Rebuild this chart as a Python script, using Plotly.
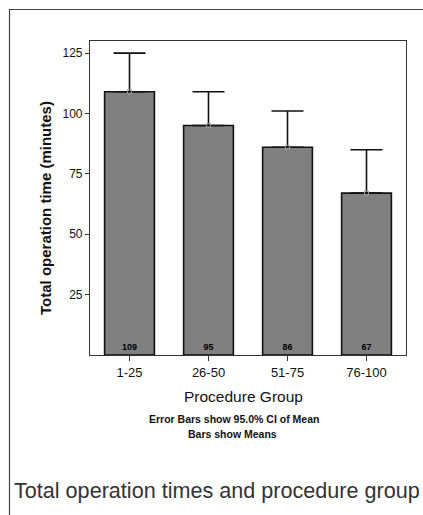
import plotly.graph_objects as go

# Mean total operation time per procedure group, with upper 95% CI
groups = ["1-25", "26-50", "51-75", "76-100"]
mean_minutes = [109, 95, 86, 67]
ci_upper = [125, 109, 101, 85]
bar_labels = ["109", "95", "86", "67"]
y_ticks = [25, 50, 75, 100, 125]

W, H = 423, 515
ML, MR, MT, MB = 90, 17, 41, 160
PW, PH = W - ML - MR, H - MT - MB


def px_x(px):
    return (px - ML) / PW


def px_y(py):
    return (H - MB - py) / PH


FONT = "Liberation Sans, Arial, sans-serif"

fig = go.Figure()

fig.add_trace(go.Bar(
    x=groups,
    y=mean_minutes,
    width=0.63,
    marker=dict(color="#808080", line=dict(color="#111111", width=1.6)),
    text=bar_labels,
    textposition="inside",
    insidetextanchor="start",
    textangle=0,
    textfont=dict(family=FONT, size=9, color="#000000", weight="bold"),
    error_y=dict(
        type="data",
        symmetric=False,
        array=[u - m for u, m in zip(ci_upper, mean_minutes)],
        arrayminus=[0] * len(mean_minutes),
        color="#111111",
        thickness=1.6,
        width=16,
    ),
    showlegend=False,
    hoverinfo="skip",
))

# Mean markers at the top of each bar
fig.add_trace(go.Scatter(
    x=groups,
    y=mean_minutes,
    mode="markers",
    marker=dict(symbol="square-open", size=4, color="#9a9a9a", line=dict(width=1)),
    showlegend=False,
    hoverinfo="skip",
))

fig.update_layout(
    width=W,
    height=H,
    margin=dict(l=ML, r=MR, t=MT, b=MB),
    paper_bgcolor="white",
    plot_bgcolor="white",
    font=dict(family=FONT, color="#000000"),
    xaxis=dict(
        showline=True, linecolor="#333333", linewidth=1.2, mirror=True,
        ticks="outside", ticklen=5, tickcolor="#333333",
        tickfont=dict(size=13, family=FONT, color="#111111"),
        showgrid=False, zeroline=False,
    ),
    yaxis=dict(
        range=[0, 130],
        tickvals=y_ticks,
        showline=True, linecolor="#333333", linewidth=1.2, mirror=True,
        ticks="outside", ticklen=4, tickcolor="#333333",
        tickfont=dict(size=12, family=FONT, color="#111111"),
        showgrid=False, zeroline=False,
    ),
)

# Axis titles and notes
fig.add_annotation(
    xref="paper", yref="paper", x=px_x(45), y=px_y(208),
    xanchor="center", yanchor="middle",
    text="<b>Total operation time (minutes)</b>", textangle=-90,
    showarrow=False, font=dict(size=15, family=FONT, color="#111111"),
)
fig.add_annotation(
    xref="paper", yref="paper", x=px_x(243), y=px_y(396),
    xanchor="center", yanchor="middle",
    text="Procedure Group", showarrow=False,
    font=dict(size=15.5, family=FONT, color="#111111"),
)
fig.add_annotation(
    xref="paper", yref="paper", x=px_x(234), y=px_y(419),
    xanchor="center", yanchor="middle",
    text="<b>Error Bars show 95.0% CI of Mean</b>", showarrow=False,
    font=dict(size=10.5, family=FONT, color="#111111"),
)
fig.add_annotation(
    xref="paper", yref="paper", x=px_x(232), y=px_y(434),
    xanchor="center", yanchor="middle",
    text="<b>Bars show Means</b>", showarrow=False,
    font=dict(size=10.5, family=FONT, color="#111111"),
)
fig.add_annotation(
    xref="paper", yref="paper", x=px_x(12), y=px_y(490),
    xanchor="left", yanchor="middle",
    text="Total operation times and procedure group", showarrow=False,
    font=dict(size=21.6, family=FONT, color="#333333"),
)

# Outer frame around the figure panel
fig.add_shape(
    type="rect", xref="paper", yref="paper",
    x0=px_x(9.5), x1=px_x(430), y0=px_y(530), y1=px_y(9.5),
    line=dict(color="#444444", width=1.2), fillcolor="rgba(0,0,0,0)",
    layer="below",
)

fig.write_html("out.html")
